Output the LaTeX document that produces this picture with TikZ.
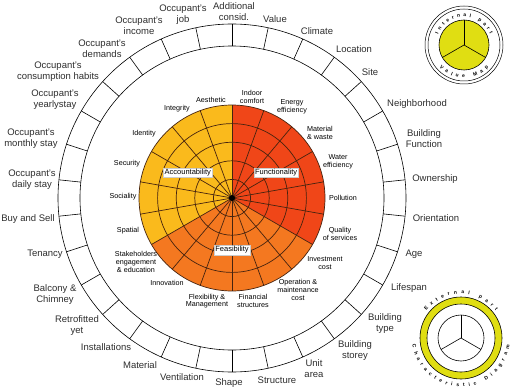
\documentclass[tikz,border=0pt]{standalone}
\usepackage{fontspec}
\setmainfont{Liberation Sans}
\usetikzlibrary{decorations.text}

\definecolor{accyellow}{RGB}{250,186,28}
\definecolor{funcred}{RGB}{240,70,24}
\definecolor{feasorange}{RGB}{244,120,32}
\definecolor{pieline}{RGB}{70,35,15}
\definecolor{mapyellow}{RGB}{224,222,18}
\definecolor{labelgray}{RGB}{45,45,45}

\begin{document}
\begin{tikzpicture}[x=1pt, y=1pt,
    outer/.style={font=\fontsize{9.5}{11}\selectfont, text=labelgray, align=center, inner sep=0pt},
    inner/.style={font=\fontsize{7.2}{7.6}\selectfont, align=center, inner sep=0pt},
    part/.style={fill=white, draw=gray!40, line width=0.3pt, inner sep=1.2pt, font=\fontsize{7.5}{8}\selectfont},
    curved/.style={decorate, decoration={text along path, text align=fit to path,
        text={|\fontsize{5}{5}\selectfont\bfseries|#1}}}]
    \useasboundingbox (-232,-193) rectangle (279,198);

    % pie with the three parts
    \fill[accyellow] (0,0) -- (90:93) arc[start angle=90, end angle=210, radius=93] -- cycle;
    \fill[feasorange] (0,0) -- (210:93) arc[start angle=210, end angle=330, radius=93] -- cycle;
    \fill[funcred] (0,0) -- (330:93) arc[start angle=330, end angle=450, radius=93] -- cycle;
    \foreach \r in {18.6, 37.2, 55.8, 74.4, 93}
        \draw[pieline, line width=0.7pt] (0,0) circle[radius=\r];
    \foreach \a in {10, 30, ..., 350}
        \draw[pieline, line width=0.7pt] (0,0) -- (\a:93);
    \fill (0,0) circle[radius=3];

    \node[part] (acc) at (150:51) {Accountability};
    \node[part] (func) at (30:51) {Functionality};
    \node[part] (feas) at (270:52) {Feasibility};

    % inner labels
    \node[inner] (comfort) at (20,101) {Indoor\\comfort};
    \node[inner] (energy) at (60,91) {Energy\\efficiency};
    \node[inner] (waste) at (88,65) {Material\\\& waste};
    \node[inner] (water) at (106,36) {Water\\efficiency};
    \node[inner] (pollution) at (111,0) {Pollution};
    \node[inner] (quality) at (108,-36) {Quality\\of services};
    \node[inner] (invest) at (93,-65) {Investment\\cost};
    \node[inner] (operation) at (66,-92) {Operation \&\\maintenance\\cost};
    \node[inner] (finance) at (21,-103) {Financial\\structures};
    \node[inner] (flex) at (-25,-103) {Flexibility \&\\Management};
    \node[inner] (innov) at (-65,-85) {Innovation};
    \node[inner] (stake) at (-96,-64) {Stakeholders\\engagement\\\& education};
    \node[inner] (spatial) at (-104,-33) {Spatial};
    \node[inner] (social) at (-109,1) {Sociality};
    \node[inner] (security) at (-105,34) {Security};
    \node[inner] (identity) at (-88,64) {Identity};
    \node[inner] (integrity) at (-55,89) {Integrity};
    \node[inner] (aesthetic) at (-21,98) {Aesthetic};

    % outer ring
    \draw[line width=0.6pt] (0,0) circle[radius=152];
    \draw[line width=0.6pt] (0,0) circle[radius=174];
    \foreach \a in {6, 18, ..., 354}
        \draw[line width=0.6pt] (\a:152) -- (\a:174);

    % outer labels
    \node[outer] (consid) at (2,186) {Additional\\consid.};
    \node[outer] (value) at (43,179) {Value};
    \node[outer] (climate) at (85,167) {Climate};
    \node[outer] (location) at (122,149) {Location};
    \node[outer] (site) at (138,126) {Site};
    \node[outer] (neighb) at (185,94) {Neighborhood};
    \node[outer] (function) at (192,59) {Building\\Function};
    \node[outer] (owner) at (203,19) {Ownership};
    \node[outer] (orient) at (204,-20) {Orientation};
    \node[outer] (age) at (182,-56) {Age};
    \node[outer] (life) at (177,-90) {Lifespan};
    \node[outer] (btype) at (153,-126) {Building\\type};
    \node[outer] (storey) at (123,-153) {Building\\storey};
    \node[outer] (unit) at (82,-171) {Unit\\area};
    \node[outer] (struct) at (45,-182) {Structure};
    \node[outer] (shape) at (-3,-185) {Shape};
    \node[outer] (vent) at (-50,-179) {Ventilation};
    \node[outer] (material) at (-92,-167) {Material};
    \node[outer] (install) at (-126,-149) {Installations};
    \node[outer] (retro) at (-155,-128) {Retrofitted\\yet};
    \node[outer] (balcony) at (-177,-97) {Balcony \&\\Chimney};
    \node[outer] (tenancy) at (-187,-56) {Tenancy};
    \node[outer] (buysell) at (-204,-21) {Buy and Sell};
    \node[outer] (daily) at (-200,18) {Occupant's\\daily stay};
    \node[outer] (monthly) at (-201,59) {Occupant's\\monthly stay};
    \node[outer] (yearly) at (-177,98) {Occupant's\\yearlystay};
    \node[outer] (habits) at (-174,126) {Occupant's\\consumption habits};
    \node[outer] (demands) at (-130,149) {Occupant's\\demands};
    \node[outer] (income) at (-93,172) {Occupant's\\income};
    \node[outer] (job) at (-49,183) {Occupant's\\job};

    % value map sign
    \coordinate (vm) at (232,153);
    \draw[line width=0.5pt] (vm) circle[radius=39];
    \draw[line width=0.5pt] (vm) circle[radius=36];
    \draw[line width=0.6pt, fill=mapyellow] (vm) circle[radius=25];
    \foreach \a in {90, 210, 330}
        \draw[line width=0.6pt] (vm) -- ++(\a:25);
    \path[curved={Internal part}] ([shift={(158:28)}]vm) arc[start angle=158, end angle=22, radius=28];
    \path[curved={Value Map}] ([shift={(222:33)}]vm) arc[start angle=222, end angle=318, radius=33];

    % characteristic diagram sign
    \coordinate (cd) at (229,-140);
    \draw[line width=0.6pt, fill=mapyellow, even odd rule] (cd) circle[radius=41] (cd) circle[radius=34];
    \draw[line width=0.6pt] (cd) circle[radius=23];
    \foreach \a in {90, 210, 330}
        \draw[line width=0.6pt] (cd) -- ++(\a:23);
    \path[curved={External part}] ([shift={(142:44)}]cd) arc[start angle=142, end angle=38, radius=44];
    \path[curved={Characteristic Diagram}] ([shift={(188:49)}]cd) arc[start angle=188, end angle=352, radius=49];
\end{tikzpicture}
\end{document}
